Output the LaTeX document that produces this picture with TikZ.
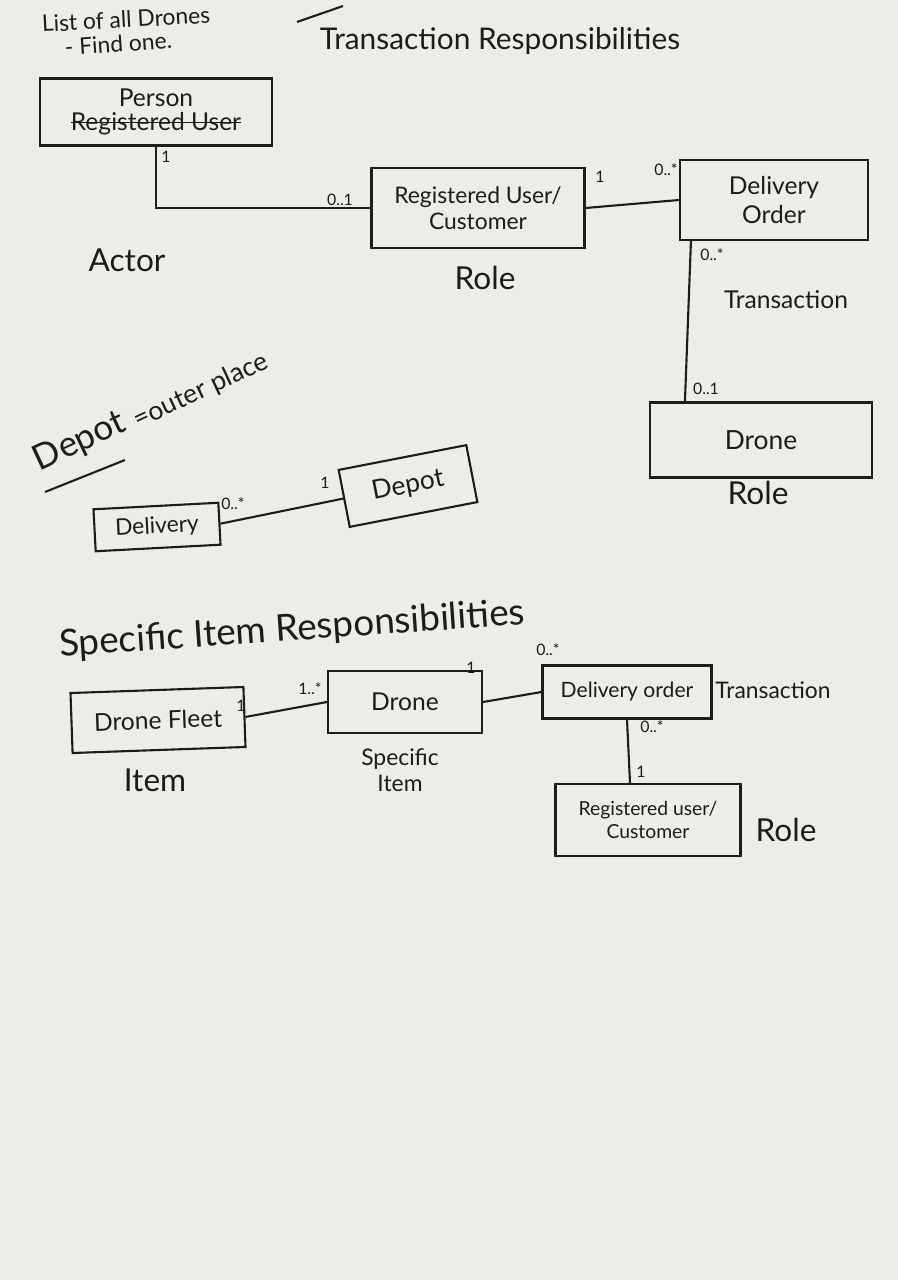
\documentclass[tikz,border=0pt]{standalone}
\usepackage{fontspec}
\setmainfont{Lato}
\definecolor{paper}{RGB}{236,237,231}
\definecolor{ink}{RGB}{28,28,28}
\newcommand\crossout[1]{\setbox0\hbox{#1}\rlap{\copy0}\rule[0.3em]{\wd0}{0.7pt}}

\begin{document}
\begin{tikzpicture}[x=0.02cm,y=-0.02cm,ink,line width=1.2pt,
    box/.style={draw,align=center,inner sep=2pt},
    mult/.style={font=\fontsize{9}{10}\selectfont,inner sep=1pt},
    tag/.style={font=\fontsize{18}{20}\selectfont,inner sep=1pt},
    head/.style={font=\fontsize{17}{19}\selectfont,inner sep=1pt}]
        \fill[paper](0,0)rectangle(898,1280);
        \useasboundingbox(0,0)rectangle(898,1280);

        \node[font=\fontsize{13}{15}\selectfont,anchor=west,rotate=3](list)at(35,24){List of all Drones};
        \node[font=\fontsize{13}{15}\selectfont,anchor=west,rotate=4](find)at(58,48){- Find one.};
        \coordinate(strokea)at(297,22);
        \coordinate(strokeb)at(343,6);
        \draw(strokea)--(strokeb);
        \node[head](title)at(500,41){Transaction Responsibilities};

        \node[box,minimum width=232*0.02cm,minimum height=67*0.02cm,font=\fontsize{14}{16}\selectfont](person)at(156,112){Person\\[-2pt]\crossout{Registered User}};
        \node[box,minimum width=213*0.02cm,minimum height=80*0.02cm,font=\fontsize{13}{15}\selectfont](ruc)at(478,208){Registered User/\\Customer};
        \node[box,minimum width=188*0.02cm,minimum height=80*0.02cm,font=\fontsize{14}{16}\selectfont](order)at(774,200){Delivery\\Order};
        \node[box,minimum width=222*0.02cm,minimum height=75*0.02cm,font=\fontsize{15}{17}\selectfont](drone)at(761,440){Drone};

        \draw(person.south)|-(ruc.west);
        \draw(ruc.east)--(order.west);
        \draw([xshift=0.24cm]order.south west)--([xshift=0.72cm]drone.north west);

        \node[mult](m1)at(166,157){1};
        \node[mult](m2)at(340,200){0..1};
        \node[mult](m3)at(600,177){1};
        \node[mult](m4)at(666,170){0..*};
        \node[mult](m5)at(712,255){0..*};
        \node[mult](m6)at(706,389){0..1};

        \node[tag](actor)at(127,260){Actor};
        \node[tag](role1)at(485,278){Role};
        \node[tag,font=\fontsize{14}{16}\selectfont](trans1)at(786,300){Transaction};
        \node[tag](role2)at(758,493){Role};

        \node[anchor=south west,rotate=25,inner sep=0pt,font=\fontsize{20}{22}\selectfont](depotword)at(42,478){Depot};
        \node[anchor=south west,rotate=25,inner sep=0pt,font=\fontsize{15}{17}\selectfont](outer)at(140,434){=outer place};
        \coordinate(ula)at(45,492);
        \coordinate(ulb)at(125,460);
        \draw(ula)--(ulb);

        \node[box,minimum width=125*0.02cm,minimum height=42*0.02cm,rotate=3,font=\fontsize{13}{15}\selectfont](delivery)at(157,527){Delivery};
        \node[box,minimum width=130*0.02cm,minimum height=58*0.02cm,rotate=11,font=\fontsize{15}{17}\selectfont](depot)at(408,486){Depot};
        \draw(delivery.east)--(depot.west);
        \node[mult](m7)at(233,504){0..*};
        \node[mult](m8)at(325,483){1};

        \node[head,rotate=4,font=\fontsize{21}{23}\selectfont](title2)at(292,630){Specific Item Responsibilities};

        \node[box,minimum width=173*0.02cm,minimum height=60*0.02cm,rotate=2,font=\fontsize{14}{16}\selectfont](fleet)at(158,720){Drone Fleet};
        \node[box,minimum width=154*0.02cm,minimum height=62*0.02cm,font=\fontsize{14}{16}\selectfont](sdrone)at(405,702){Drone};
        \node[box,minimum width=169*0.02cm,minimum height=53*0.02cm,font=\fontsize{12}{14}\selectfont](sorder)at(627,692){Delivery order};
        \node[box,minimum width=185*0.02cm,minimum height=72*0.02cm,font=\fontsize{11}{13}\selectfont](sruc)at(648,820){Registered user/\\Customer};

        \draw(fleet.east)--(sdrone.west);
        \draw(sdrone.east)--(sorder.west);
        \draw(sorder.south)--([xshift=-0.36cm]sruc.north);

        \node[mult](m9)at(241,706){1};
        \node[mult](m10)at(310,689){1..*};
        \node[mult](m11)at(471,668){1};
        \node[mult](m12)at(548,650){0..*};
        \node[mult](m13)at(652,727){0..*};
        \node[mult](m14)at(641,772){1};

        \node[tag](item)at(155,780){Item};
        \node[tag,font=\fontsize{13}{15}\selectfont,align=center](spec)at(400,770){Specific\\Item};
        \node[tag,font=\fontsize{13}{15}\selectfont](trans2)at(773,690){Transaction};
        \node[tag](role3)at(786,830){Role};

    \end{tikzpicture}
\end{document}
